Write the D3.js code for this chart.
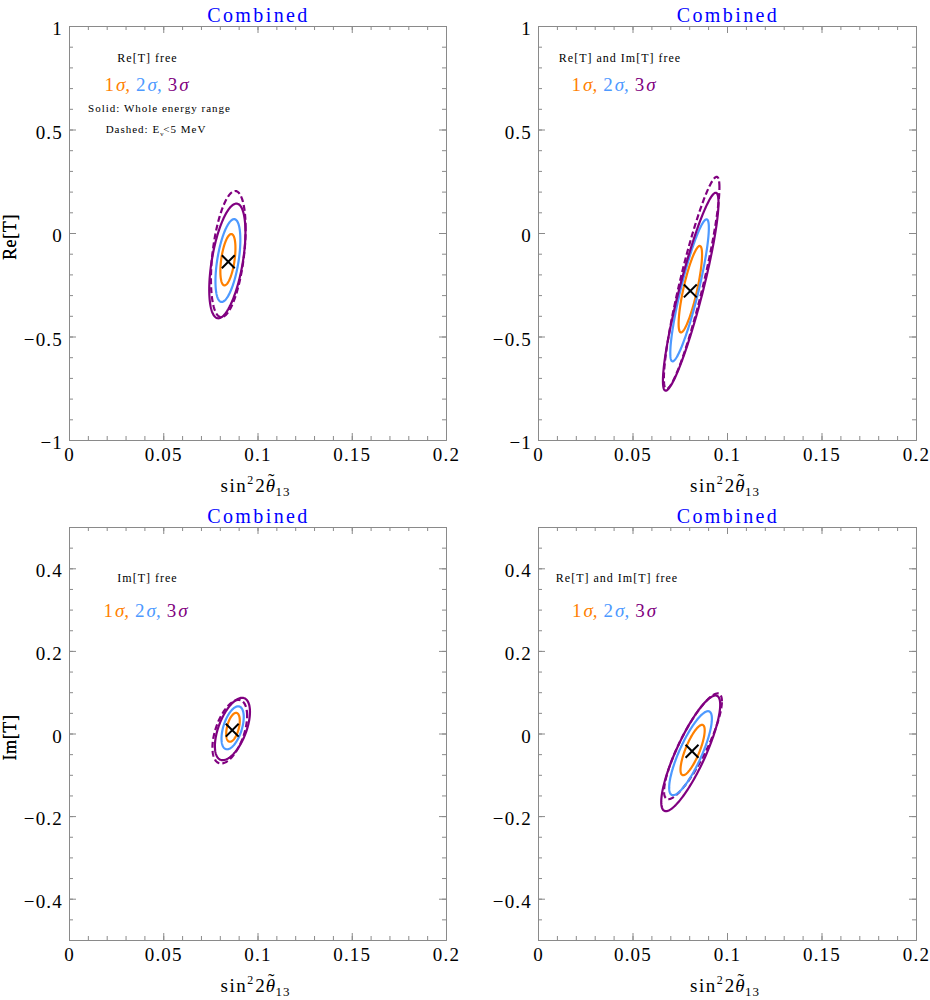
<!DOCTYPE html>
<html>
<head>
<meta charset="utf-8">
<script src="https://cdn.jsdelivr.net/npm/d3@7"></script>
<style>
  body { margin: 0; background: #fff; }
  svg { display: block; font-family: "Liberation Serif", "Times New Roman", serif; }
  .frame path.domain, .frame line { stroke: #8a8a8a; stroke-width: 1; }
</style>
</head>
<body>
<svg id="chart" width="930" height="1000"></svg>
<script>
// ---- data ----
const xTicks = [0, 0.05, 0.1, 0.15, 0.2];
const reTicks = [-1, -0.5, 0, 0.5, 1];
const imTicks = [-0.4, -0.2, 0, 0.2, 0.4];
const sigmaNames = ["1", "2", "3"];

// contours: [x centre, y centre, x half-width, y half-height, tilt], 1σ, 2σ, 3σ
const reFreeSolid = [[0.0843, -0.129, 0.0040, 0.124, 0.45], [0.0843, -0.133, 0.0066, 0.200, 0.5], [0.0840, -0.135, 0.0096, 0.277, 0.5]];
const reFreeDashed = [[0.0845, -0.102, 0.0092, 0.305, 0.4]];
const reFreeBest = [0.0845, -0.139];

const reImSolid = [[0.0806, -0.2715, 0.0062, 0.209, 0.8], [0.0802, -0.277, 0.0102, 0.343, 0.88], [0.0808, -0.2836, 0.0147, 0.478, 0.9]];
const reImDashed = [[0.0813, -0.2406, 0.0147, 0.512, 0.9]];
const reImBest = [0.0806, -0.280];

const imFreeSolid = [[0.0870, 0.015, 0.0036, 0.035, 0.45], [0.0868, 0.0138, 0.0059, 0.052, 0.5], [0.0867, 0.0109, 0.0093, 0.0755, 0.55]];
const imFreeDashed = [[0.0853, 0.0044, 0.0092, 0.077, 0.5]];
const imFreeBest = [0.0866, 0.008];

const imReSolid = [[0.0818, -0.040, 0.0064, 0.061, 0.78], [0.0807, -0.0477, 0.0113, 0.1017, 0.82], [0.0808, -0.048, 0.0156, 0.140, 0.84]];
const imReDashed = [[0.0820, -0.031, 0.0153, 0.128, 0.85]];
const imReBest = [0.0815, -0.043];

const sigmaColors = ["#ff8000", "#4d99ff", "#800080"];

let svg = d3.select("#chart");
let fmt = d3.format("~g");

let panels = [
    {left: 69, right: 446, top: 26, bottom: 440, yDomain: [-1, 1], yTicks: reTicks, yMinor: 0.1, yLabel: "Re[T]",
        solid: reFreeSolid, dashed: reFreeDashed, best: reFreeBest,
        notes: [{text: "Re[T] free", dx: 78.5, dy: 35.7}], sigma: {dx: 77.5, dy: 64.7}, extra: true},
    {left: 538, right: 916, top: 26, bottom: 440, yDomain: [-1, 1], yTicks: reTicks, yMinor: 0.1, yLabel: "Re[T]",
        solid: reImSolid, dashed: reImDashed, best: reImBest,
        notes: [{text: "Re[T] and Im[T] free", dx: 82, dy: 35.7}], sigma: {dx: 75.6, dy: 64.7}},
    {left: 69, right: 446, top: 527, bottom: 940, yDomain: [-0.5, 0.5], yTicks: imTicks, yMinor: 0.05, yLabel: "Im[T]",
        solid: imFreeSolid, dashed: imFreeDashed, best: imFreeBest,
        notes: [{text: "Im[T] free", dx: 78.5, dy: 54.7}], sigma: {dx: 76.5, dy: 89.7}},
    {left: 538, right: 916, top: 527, bottom: 940, yDomain: [-0.5, 0.5], yTicks: imTicks, yMinor: 0.05, yLabel: "Im[T]",
        solid: imReSolid, dashed: imReDashed, best: imReBest,
        notes: [{text: "Re[T] and Im[T] free", dx: 79, dy: 54.7}], sigma: {dx: 76, dy: 89.7}}
];

// closed path for a tilted ellipse given its bounding half-widths
function ellipsePoints(c, x, y) {
    let [cx, cy, rx, ry, rho] = c;
    let s = Math.sqrt(1 - rho * rho);
    return d3.range(0, 2 * Math.PI, Math.PI / 90).map(t =>
        [x(cx + rx * Math.cos(t)), y(cy + ry * (rho * Math.cos(t) + s * Math.sin(t)))]);
}

panels.forEach(function (p) {
    let x = d3.scaleLinear().domain([0, 0.2]).range([p.left, p.right]);
    let y = d3.scaleLinear().domain(p.yDomain).range([p.bottom, p.top]);
    let xMinor = d3.range(0, 0.2001, 0.01);
    let yMinor = d3.range(p.yDomain[0], p.yDomain[1] + 1e-6, p.yMinor);
    let g = svg.append("g");

    // frame with inward ticks on all four sides
    let sides = [
        {axis: d3.axisBottom(x), tr: [0, p.bottom], minor: xMinor, major: xTicks, labels: true},
        {axis: d3.axisTop(x), tr: [0, p.top], minor: xMinor, major: xTicks},
        {axis: d3.axisLeft(y), tr: [p.left, 0], minor: yMinor, major: p.yTicks, labels: true, left: true},
        {axis: d3.axisRight(y), tr: [p.right, 0], minor: yMinor, major: p.yTicks}
    ];
    sides.forEach(function (s) {
        g.append("g").attr("class", "frame")
            .attr("transform", "translate(" + s.tr[0] + "," + s.tr[1] + ")")
            .call(s.axis.tickValues(s.minor).tickSizeInner(-4).tickSizeOuter(0).tickFormat(""));
        let a = g.append("g").attr("class", "frame")
            .attr("transform", "translate(" + s.tr[0] + "," + s.tr[1] + ")")
            .call(s.axis.tickValues(s.major).tickSizeInner(-7).tickSizeOuter(0)
                .tickPadding(s.labels ? 8 : 0).tickFormat(s.labels ? fmt : ""));
        a.selectAll("text").attr("font-size", 19).attr("letter-spacing", 1.2)
            .attr("font-family", "Liberation Serif").attr("fill", "#000");
        if (s.left) a.selectAll("text").attr("dy", "0.45em").attr("x", -6);
    });

    // title
    g.append("text").attr("x", (p.left + p.right) / 2 + 1).attr("y", p.top - 4)
        .attr("text-anchor", "middle").attr("font-size", 20).attr("letter-spacing", 2.4)
        .attr("fill", "#0000ff").text("Combined");

    // x label
    let xl = g.append("text").attr("x", (p.left + p.right) / 2 - 2).attr("y", p.bottom + 51.7)
        .attr("text-anchor", "middle").attr("font-size", 19);
    xl.append("tspan").attr("letter-spacing", 1.5).text("sin");
    xl.append("tspan").attr("font-size", 12).attr("dy", -8).text("2");
    xl.append("tspan").attr("dy", 8).attr("dx", 2).text("2");
    xl.append("tspan").attr("font-style", "italic").attr("dx", 1).text("θ");
    xl.append("tspan").attr("dx", -7).attr("dy", -5).text("\u02DC");
    xl.append("tspan").attr("font-size", 13).attr("dx", 1).attr("dy", 9).attr("letter-spacing", 1).text("13");

    // y label
    g.append("text").attr("transform", "translate(16," + ((p.top + p.bottom) / 2 + 4) + ") rotate(-90)")
        .attr("text-anchor", "middle").attr("font-size", 18).attr("letter-spacing", 0.6).text(p.yLabel);

    // notes
    p.notes.forEach(function (n) {
        g.append("text").attr("x", p.left + n.dx).attr("y", p.top + n.dy)
            .attr("text-anchor", "middle").attr("font-size", 12).attr("letter-spacing", 1).text(n.text);
    });
    let st = g.append("text").attr("x", p.left + p.sigma.dx).attr("y", p.top + p.sigma.dy)
        .attr("text-anchor", "middle").attr("font-size", 19);
    sigmaNames.forEach(function (nm, i) {
        st.append("tspan").attr("fill", sigmaColors[i]).attr("dx", i ? 6 : 0).text(nm);
        st.append("tspan").attr("fill", sigmaColors[i]).attr("font-style", "italic").attr("dx", 2)
            .text(i < sigmaNames.length - 1 ? "σ," : "σ");
    });
    if (p.extra) {
        g.append("text").attr("x", p.left + 90.5).attr("y", p.top + 86.3)
            .attr("text-anchor", "middle").attr("font-size", 11).attr("letter-spacing", 1)
            .text("Solid: Whole energy range");
        let d = g.append("text").attr("x", p.left + 87).attr("y", p.top + 107.3)
            .attr("text-anchor", "middle").attr("font-size", 11).attr("letter-spacing", 1);
        d.append("tspan").text("Dashed: E");
        d.append("tspan").attr("font-size", 7).attr("dy", 3).attr("letter-spacing", 0).text("ν");
        d.append("tspan").attr("dy", -3).text("<5 MeV");
    }

    // contours
    let line = d3.line().curve(d3.curveLinearClosed);
    g.selectAll("path.dashed").data(p.dashed).enter().append("path")
        .attr("class", "dashed")
        .attr("d", c => line(ellipsePoints(c, x, y)))
        .attr("fill", "none").attr("stroke", sigmaColors[2]).attr("stroke-width", 2.2)
        .attr("stroke-dasharray", "6,3");
    g.selectAll("path.solid").data(p.solid).enter().append("path")
        .attr("class", "solid")
        .attr("d", c => line(ellipsePoints(c, x, y)))
        .attr("fill", "none").attr("stroke", (c, i) => sigmaColors[i]).attr("stroke-width", 2.2);

    // best fit
    let sym = d3.symbolTimes || d3.symbolCross;
    g.append("path")
        .attr("transform", "translate(" + x(p.best[0]) + "," + y(p.best[1]) + ")")
        .attr("d", d3.symbol().type(sym).size(110)())
        .attr("fill", "none").attr("stroke", "#000").attr("stroke-width", 2);
});
</script>
</body>
</html>
